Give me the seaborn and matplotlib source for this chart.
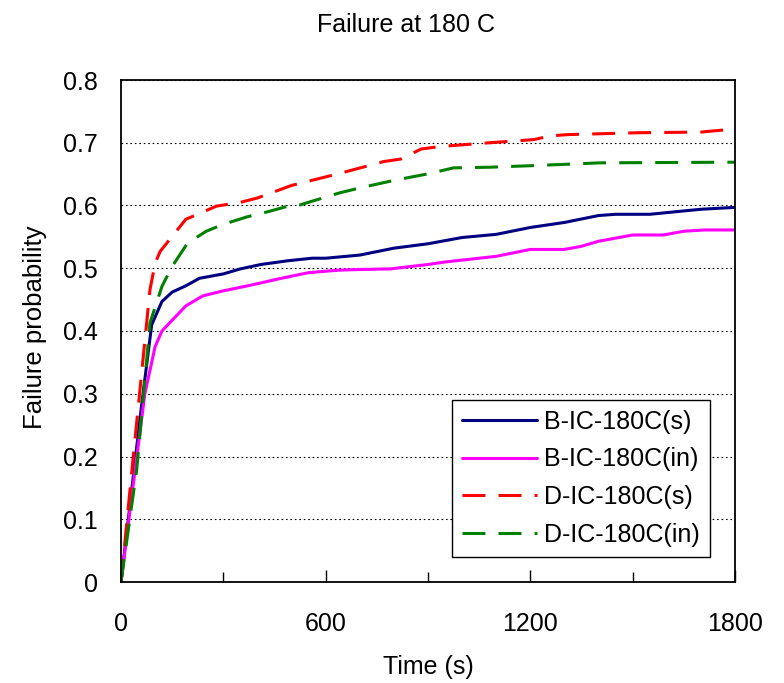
import numpy as np
import pandas as pd
import matplotlib
matplotlib.use('Agg')
import matplotlib.pyplot as plt
from matplotlib.ticker import FixedLocator
import seaborn as sns

# B-IC-180C(s)
t_b_s = [0, 30, 60, 90, 120, 150, 190, 230, 300, 350, 410, 490, 560, 600, 700,
         800, 900, 1000, 1100, 1200, 1300, 1400, 1450, 1550, 1700, 1800]
p_b_s = [0, 0.14, 0.28, 0.41, 0.447, 0.462, 0.472, 0.484, 0.491, 0.499, 0.506,
         0.512, 0.516, 0.516, 0.521, 0.532, 0.539, 0.549, 0.554, 0.565, 0.573,
         0.584, 0.586, 0.586, 0.594, 0.597]

# B-IC-180C(in)
t_b_in = [0, 30, 70, 100, 120, 190, 240, 300, 380, 470, 550, 640, 700, 790, 900,
          950, 1100, 1200, 1300, 1350, 1400, 1500, 1590, 1650, 1710, 1800]
p_b_in = [0, 0.13, 0.30, 0.375, 0.40, 0.44, 0.456, 0.464, 0.473, 0.484, 0.493,
          0.497, 0.498, 0.499, 0.506, 0.510, 0.519, 0.530, 0.530, 0.535, 0.543,
          0.553, 0.553, 0.559, 0.561, 0.561]

# D-IC-180C(s)
t_d_s = [0, 36, 85, 100, 115, 190, 280, 350, 400, 500, 640, 770, 820, 880, 935,
         1080, 1210, 1260, 1310, 1520, 1700, 1800]
p_d_s = [0, 0.20, 0.466, 0.508, 0.527, 0.578, 0.599, 0.605, 0.612, 0.632, 0.651,
         0.670, 0.674, 0.690, 0.694, 0.700, 0.705, 0.711, 0.713, 0.716, 0.717, 0.722]

# D-IC-180C(in)
t_d_in = [0, 46, 85, 120, 150, 195, 250, 300, 370, 430, 490, 525, 640, 700, 800,
          905, 975, 1080, 1230, 1405, 1800]
p_d_in = [0, 0.179, 0.413, 0.471, 0.503, 0.540, 0.559, 0.570, 0.582, 0.590, 0.599,
          0.601, 0.620, 0.628, 0.640, 0.651, 0.660, 0.661, 0.664, 0.668, 0.669]

series_names = ['B-IC-180C(s)', 'B-IC-180C(in)', 'D-IC-180C(s)', 'D-IC-180C(in)']
y_tick_labels = ['0', '0.1', '0.2', '0.3', '0.4', '0.5', '0.6', '0.7', '0.8']

frames = []
for name, t, p in zip(series_names, [t_b_s, t_b_in, t_d_s, t_d_in],
                      [p_b_s, p_b_in, p_d_s, p_d_in]):
    frames.append(pd.DataFrame({'Time (s)': t, 'Failure probability': p, 'series': name}))
df = pd.concat(frames, ignore_index=True)

sns.set_style('white')
plt.rcParams['font.family'] = ['Liberation Sans', 'DejaVu Sans']
plt.rcParams['text.color'] = 'black'
plt.rcParams['axes.labelcolor'] = 'black'
plt.rcParams['xtick.color'] = 'black'
plt.rcParams['ytick.color'] = 'black'

palette = {'B-IC-180C(s)': '#000080', 'B-IC-180C(in)': '#FF00FF',
           'D-IC-180C(s)': '#FF0000', 'D-IC-180C(in)': '#008000'}
dashes = {'B-IC-180C(s)': '', 'B-IC-180C(in)': '',
          'D-IC-180C(s)': (7.5, 4.3), 'D-IC-180C(in)': (7.5, 4.3)}

fig = plt.figure(figsize=(7.84, 6.83), dpi=100)
ax = fig.add_axes([121 / 784, 1 - 582 / 683, 614 / 784, 502 / 683])

sns.lineplot(data=df, x='Time (s)', y='Failure probability', hue='series',
             style='series', palette=palette, dashes=dashes, hue_order=series_names,
             style_order=series_names, estimator=None, sort=False, lw=2.2, ax=ax)

ax.set_xlim(0, 1800)
ax.set_ylim(0, 0.8)
ax.set_xticks([0, 600, 1200, 1800])
ax.set_xticklabels(['0', '600', '1200', '1800'])
ax.xaxis.set_minor_locator(FixedLocator([300, 900, 1500]))
ax.set_yticks(np.arange(0, 0.81, 0.1))
ax.set_yticklabels(y_tick_labels)

ax.tick_params(axis='x', which='major', direction='in', length=9, width=1,
               pad=21.5, labelsize=18, bottom=True)
ax.tick_params(axis='x', which='minor', direction='in', length=7, width=1, bottom=True)
ax.tick_params(axis='y', which='major', direction='in', length=0, pad=16.5, labelsize=18)

ax.yaxis.grid(True, linestyle=(0, (1.5, 2.5)), color='black', lw=0.8)
ax.xaxis.grid(False)
for s in ax.spines.values():
    s.set_color('black')
    s.set_linewidth(1.3)

ax.set_xlabel('Time (s)', fontsize=18)
ax.xaxis.set_label_coords(0.5, -0.17)
ax.xaxis.label.set_va('center')
ax.set_ylabel('Failure probability', fontsize=18.5)
ax.yaxis.set_label_coords(-0.12, 0.508)

fig.text(406 / 784, 1 - 32 / 683, 'Failure at 180 C', fontsize=18,
         ha='center', va='baseline')

handles, labels = ax.get_legend_handles_labels()
leg = ax.legend(handles, labels, loc='lower right', bbox_to_anchor=(0.959, 0.05),
                borderaxespad=0, fontsize=18, handlelength=3.0, handletextpad=0.3,
                labelspacing=0.55, borderpad=0.4, frameon=True, fancybox=False,
                edgecolor='black', framealpha=1)
leg.get_frame().set_linewidth(1.0)

plt.savefig('out.png', dpi=100)
